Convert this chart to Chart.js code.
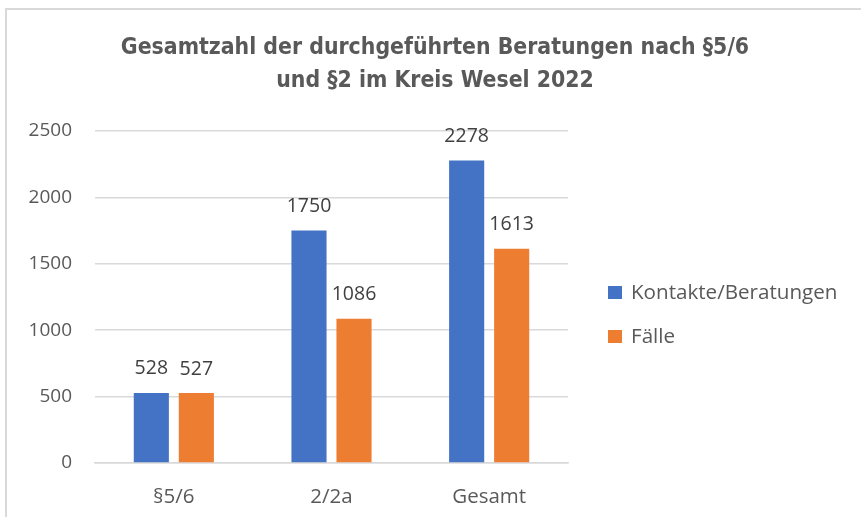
<!DOCTYPE html>
<html>
<head>
<meta charset="utf-8">
<script src="https://cdn.jsdelivr.net/npm/chart.js@4.4.1/dist/chart.umd.min.js"></script>
<style>
  html, body { margin: 0; padding: 0; background: #fff; }
  #wrap { position: relative; width: 861px; height: 517px; overflow: hidden; }
  #frame { position: absolute; left: 5px; top: 8px; width: 900px; height: 600px;
           border-left: 2px solid #d9d9d9; border-top: 2px solid #d9d9d9; }
  canvas { position: absolute; left: 0; top: 0; }
</style>
</head>
<body>
<div id="wrap">
  <div id="frame"></div>
  <canvas id="c" width="861" height="517"></canvas>
</div>
<script>
const categories = ['§5/6', '2/2a', 'Gesamt'];
const seriesNames = ['Kontakte/Beratungen', 'Fälle'];
const kontakte = [528, 1750, 2278];
const faelle = [527, 1086, 1613];
const yTicks = [0, 500, 1000, 1500, 2000, 2500];
const titleLines = ['Gesamtzahl der durchgeführten Beratungen nach §5/6', 'und §2 im Kreis Wesel 2022'];

const baseFont = '"Open Sans", "Noto Sans", sans-serif';

const valueLabels = {
  id: 'valueLabels',
  afterDatasetsDraw(chart) {
    const ctx = chart.ctx;
    ctx.save();
    ctx.font = '19.5px ' + baseFont;
    ctx.fillStyle = '#404040';
    ctx.textAlign = 'center';
    ctx.textBaseline = 'middle';
    chart.data.datasets.forEach((ds, di) => {
      chart.getDatasetMeta(di).data.forEach((bar, i) => {
        ctx.fillText(String(ds.data[i]), bar.x, bar.y - 24);
      });
    });
    ctx.restore();
  }
};

const sideLegend = {
  id: 'sideLegend',
  afterDraw(chart) {
    const ctx = chart.ctx;
    const area = chart.chartArea;
    ctx.save();
    ctx.font = '20.6px ' + baseFont;
    ctx.textAlign = 'left';
    ctx.textBaseline = 'middle';
    chart.data.datasets.forEach((ds, i) => {
      const y = area.top + 162 + i * 44;
      const x = area.right + 40;
      ctx.fillStyle = ds.backgroundColor;
      ctx.fillRect(x, y - 7, 14, 13);
      ctx.fillStyle = '#595959';
      ctx.fillText(ds.label, x + 23, y);
    });
    ctx.restore();
  }
};

const centeredTitle = {
  id: 'centeredTitle',
  afterDraw(chart) {
    const ctx = chart.ctx;
    ctx.save();
    ctx.font = 'bold 22.8px "DejaVu Sans Condensed", sans-serif';
    ctx.fillStyle = '#595959';
    ctx.textAlign = 'center';
    ctx.textBaseline = 'middle';
    titleLines.forEach((line, i) => {
      ctx.fillText(line, 435, 48 + i * 33);
    });
    ctx.restore();
  }
};

new Chart(document.getElementById('c'), {
  type: 'bar',
  data: {
    labels: categories,
    datasets: [
      { label: seriesNames[0], data: kontakte, backgroundColor: '#4472C4' },
      { label: seriesNames[1], data: faelle, backgroundColor: '#ED7D31' }
    ]
  },
  options: {
    responsive: false,
    animation: false,
    devicePixelRatio: 1,
    datasets: { bar: { categoryPercentage: 0.571, barPercentage: 0.78 } },
    layout: { padding: { left: 10, right: 293, top: 131, bottom: 0 } },
    plugins: {
      title: { display: false },
      legend: { display: false },
      tooltip: { enabled: false }
    },
    scales: {
      y: {
        min: 0, max: 2500,
        afterBuildTicks(scale) { scale.ticks = yTicks.map(v => ({ value: v })); },
        afterFit(scale) { scale.width = 85; },
        grid: { color: '#d9d9d9', lineWidth: 1.5, drawTicks: false },
        border: { display: false },
        ticks: { color: '#595959', font: { family: baseFont, size: 19 }, padding: 23,
                 callback: (v) => String(v) }
      },
      x: {
        afterFit(scale) { scale.height = 54; },
        grid: { display: false, drawTicks: false },
        border: { color: '#d9d9d9', width: 1.5 },
        ticks: { color: '#595959', font: { family: baseFont, size: 20.5 }, padding: 22 }
      }
    }
  },
  plugins: [valueLabels, sideLegend, centeredTitle]
});
</script>
</body>
</html>
